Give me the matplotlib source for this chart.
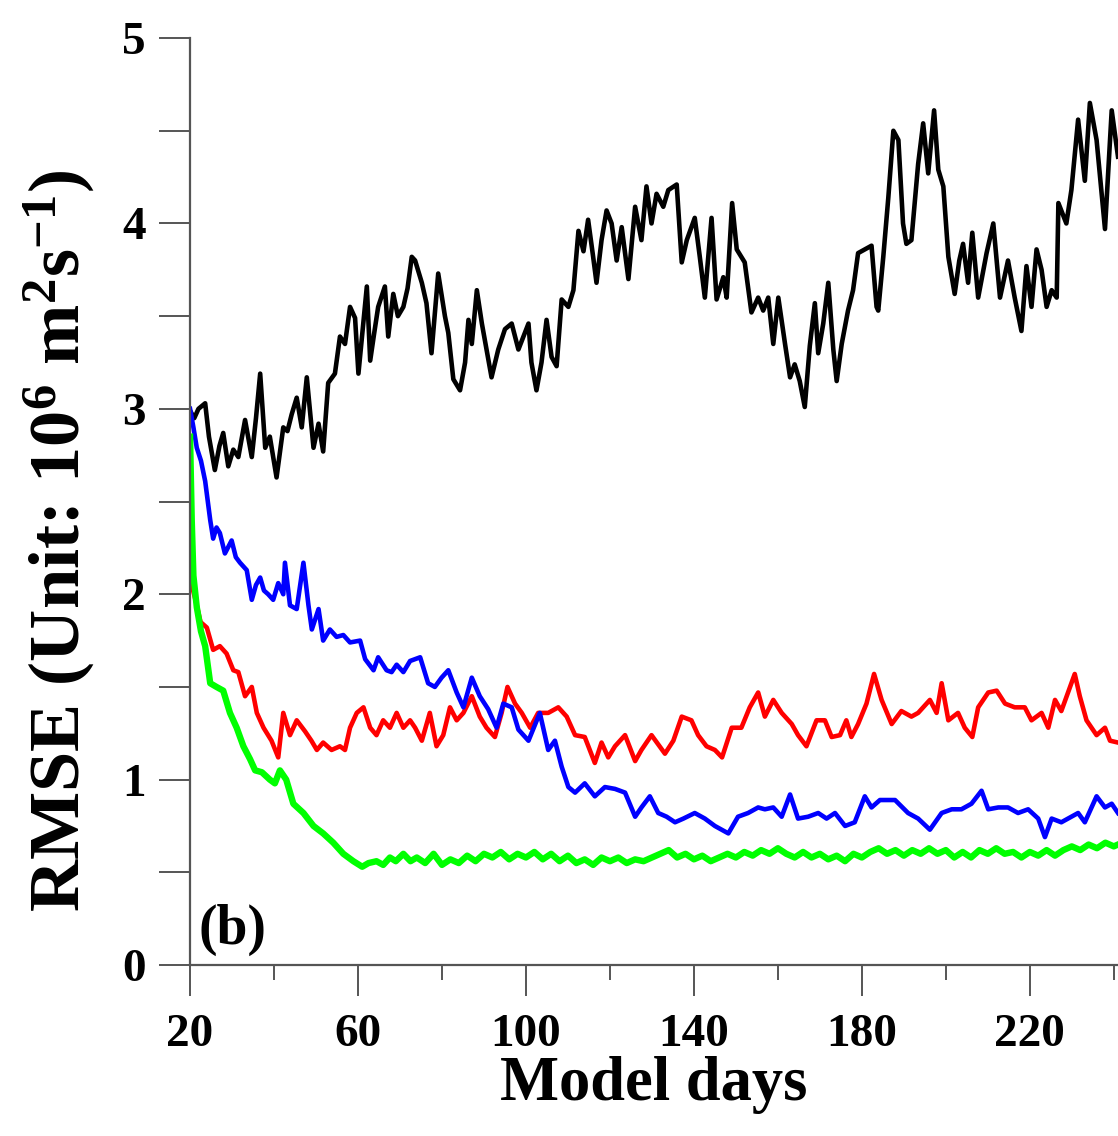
import numpy as np
import matplotlib
matplotlib.use('Agg')
from matplotlib import pyplot as plt
from matplotlib.ticker import FixedLocator, MultipleLocator

plt.rcParams['font.family'] = ['Liberation Serif', 'DejaVu Serif']
plt.rcParams['font.weight'] = 'bold'
plt.rcParams['mathtext.fontset'] = 'custom'
plt.rcParams['mathtext.rm'] = 'Liberation Serif:bold'
plt.rcParams['mathtext.it'] = 'Liberation Serif:bold'
plt.rcParams['mathtext.bf'] = 'Liberation Serif:bold'

# (model day, RMSE)
black = [(20.0, 2.99), (21.0, 2.95), (22.0, 3.00), (23.6, 3.03), (24.5, 2.85), (25.9, 2.67),
         (27.0, 2.80), (27.9, 2.87), (29.1, 2.69), (30.3, 2.78), (31.5, 2.74), (33.1, 2.94),
         (34.7, 2.74), (35.7, 2.95), (36.7, 3.19), (37.9, 2.79), (39.0, 2.85), (40.6, 2.63),
         (42.2, 2.90), (43.2, 2.88), (44.2, 2.97), (45.4, 3.06), (46.6, 2.90), (47.8, 3.17),
         (49.4, 2.79), (50.6, 2.92), (51.7, 2.77), (52.9, 3.14), (54.5, 3.19), (55.7, 3.39),
         (56.9, 3.35), (58.1, 3.55), (59.3, 3.49), (60.1, 3.19), (61.0, 3.40), (62.1, 3.66),
         (62.9, 3.26), (63.8, 3.40), (64.8, 3.55), (66.4, 3.66), (67.2, 3.39), (68.4, 3.62),
         (69.5, 3.50), (70.8, 3.55), (71.8, 3.65), (72.8, 3.82), (73.6, 3.80), (75.2, 3.68),
         (76.3, 3.57), (77.5, 3.30), (79.1, 3.73), (80.7, 3.50), (81.5, 3.41), (82.7, 3.16),
         (84.3, 3.10), (85.5, 3.25), (86.3, 3.48), (87.1, 3.35), (88.3, 3.64), (89.5, 3.46),
         (90.6, 3.32), (91.8, 3.17), (93.4, 3.32), (95.0, 3.43), (96.6, 3.46), (98.2, 3.32),
         (100.6, 3.46), (101.3, 3.25), (102.5, 3.10), (103.7, 3.25), (104.9, 3.48), (106.1, 3.28),
         (107.3, 3.23), (108.5, 3.59), (110.1, 3.55), (111.3, 3.64), (112.5, 3.96), (113.7, 3.85),
         (114.8, 4.02), (116.0, 3.82), (116.8, 3.68), (118.0, 3.91), (119.2, 4.07), (120.4, 4.00),
         (121.6, 3.80), (122.8, 3.98), (124.4, 3.70), (126.0, 4.09), (127.5, 3.91), (128.7, 4.20),
         (129.9, 4.00), (131.1, 4.16), (132.7, 4.09), (133.9, 4.18), (135.9, 4.21), (137.1, 3.79),
         (138.3, 3.91), (140.2, 4.03), (141.4, 3.82), (142.6, 3.60), (144.2, 4.03), (145.4, 3.59),
         (147.0, 3.71), (147.8, 3.60), (149.1, 4.11), (150.2, 3.86), (152.1, 3.79), (153.7, 3.52),
         (155.3, 3.60), (156.5, 3.53), (157.7, 3.60), (158.9, 3.35), (160.1, 3.60), (161.7, 3.35),
         (162.9, 3.17), (164.0, 3.24), (165.2, 3.15), (166.4, 3.01), (167.6, 3.34), (168.8, 3.57),
         (169.6, 3.30), (170.8, 3.46), (172.0, 3.68), (173.2, 3.32), (174.0, 3.15), (175.2, 3.35),
         (176.7, 3.53), (177.9, 3.64), (179.1, 3.84), (180.7, 3.86), (182.3, 3.88), (183.5, 3.55),
         (183.9, 3.53), (185.1, 3.82), (186.3, 4.14), (187.5, 4.50), (188.7, 4.45), (189.8, 4.00),
         (190.6, 3.89), (191.8, 3.91), (193.4, 4.32), (194.6, 4.54), (195.8, 4.27), (197.2, 4.61),
         (198.2, 4.29), (199.4, 4.20), (200.6, 3.82), (202.1, 3.62), (203.2, 3.80), (204.1, 3.89),
         (205.3, 3.68), (206.3, 3.95), (207.7, 3.60), (209.7, 3.84), (211.3, 4.00), (212.9, 3.60),
         (214.8, 3.80), (216.4, 3.60), (218.0, 3.42), (219.2, 3.77), (220.4, 3.55), (221.6, 3.86),
         (222.8, 3.75), (224.0, 3.55), (225.2, 3.64), (226.4, 3.60), (226.8, 4.11), (228.7, 4.00),
         (229.9, 4.18), (231.5, 4.56), (233.1, 4.23), (234.3, 4.65), (235.9, 4.45), (237.9, 3.97),
         (239.5, 4.61), (241.0, 4.36)]

blue = [(20.0, 3.00), (20.8, 2.90), (21.6, 2.79), (22.6, 2.72), (23.6, 2.61), (24.8, 2.40),
        (25.5, 2.30), (26.3, 2.36), (27.1, 2.33), (28.3, 2.22), (29.9, 2.29), (30.9, 2.20),
        (31.9, 2.17), (33.5, 2.13), (34.7, 1.97), (35.7, 2.05), (36.7, 2.09), (37.6, 2.02),
        (38.6, 2.00), (39.8, 1.97), (41.0, 2.06), (42.2, 2.00), (42.6, 2.17), (43.8, 1.94),
        (45.4, 1.92), (47.0, 2.17), (48.2, 1.94), (49.0, 1.81), (50.6, 1.92), (51.7, 1.75),
        (53.3, 1.81), (54.9, 1.77), (56.5, 1.78), (58.1, 1.74), (60.5, 1.75), (61.7, 1.65),
        (63.7, 1.59), (64.8, 1.66), (66.8, 1.59), (68.0, 1.58), (69.2, 1.62), (70.8, 1.58),
        (72.4, 1.64), (74.8, 1.66), (76.7, 1.52), (78.3, 1.50), (79.9, 1.55), (81.5, 1.59),
        (83.5, 1.47), (85.1, 1.39), (87.1, 1.55), (89.0, 1.45), (91.0, 1.38), (93.0, 1.28),
        (94.6, 1.41), (96.6, 1.39), (98.2, 1.27), (100.6, 1.21), (103.3, 1.36), (105.3, 1.16),
        (106.9, 1.21), (108.5, 1.07), (110.1, 0.96), (111.7, 0.93), (114.0, 0.98), (116.4, 0.91),
        (118.8, 0.96), (121.2, 0.95), (123.6, 0.93), (126.0, 0.80), (127.5, 0.85), (129.5, 0.91),
        (131.5, 0.82), (133.5, 0.80), (135.5, 0.77), (137.5, 0.79), (140.2, 0.82), (142.6, 0.79),
        (145.0, 0.75), (148.2, 0.71), (150.5, 0.80), (152.9, 0.82), (155.3, 0.85), (156.9, 0.84),
        (158.9, 0.85), (160.9, 0.80), (162.9, 0.92), (164.8, 0.79), (167.2, 0.80), (169.6, 0.82),
        (171.6, 0.79), (173.6, 0.82), (176.0, 0.75), (178.3, 0.77), (180.7, 0.91), (182.3, 0.85),
        (184.3, 0.89), (185.5, 0.89), (187.9, 0.89), (191.0, 0.82), (193.4, 0.79), (196.2, 0.73),
        (199.0, 0.82), (201.4, 0.84), (203.7, 0.84), (206.1, 0.87), (208.5, 0.94), (210.1, 0.84),
        (212.5, 0.85), (214.8, 0.85), (217.2, 0.82), (219.6, 0.84), (222.0, 0.79), (223.6, 0.69),
        (225.2, 0.79), (227.5, 0.77), (229.9, 0.80), (231.5, 0.82), (233.1, 0.77), (235.9, 0.91),
        (237.9, 0.85), (239.5, 0.87), (241.0, 0.82)]

red = [(20.0, 2.15), (20.4, 2.05), (21.5, 1.95), (22.5, 1.85), (24.0, 1.82), (25.5, 1.70),
       (27.1, 1.72), (28.7, 1.68), (30.3, 1.59), (31.5, 1.58), (33.1, 1.45), (34.7, 1.50),
       (35.9, 1.36), (37.5, 1.28), (39.4, 1.21), (41.0, 1.12), (42.2, 1.36), (43.8, 1.24),
       (45.4, 1.32), (47.4, 1.26), (48.9, 1.21), (50.2, 1.16), (51.7, 1.20), (53.7, 1.16),
       (55.7, 1.18), (56.9, 1.16), (58.1, 1.28), (59.7, 1.36), (61.3, 1.39), (62.9, 1.28),
       (64.4, 1.24), (66.0, 1.32), (67.6, 1.28), (69.2, 1.36), (70.8, 1.28), (72.4, 1.32),
       (73.6, 1.28), (75.2, 1.21), (77.1, 1.36), (78.7, 1.18), (80.3, 1.24), (81.9, 1.39),
       (83.5, 1.32), (85.1, 1.36), (87.1, 1.45), (89.0, 1.34), (90.6, 1.28), (92.6, 1.23),
       (94.2, 1.36), (95.6, 1.50), (97.4, 1.41), (99.0, 1.36), (101.0, 1.28), (102.9, 1.36),
       (105.3, 1.36), (107.7, 1.39), (109.7, 1.34), (111.7, 1.24), (114.0, 1.23), (116.4, 1.09),
       (118.0, 1.20), (119.6, 1.12), (121.2, 1.18), (123.6, 1.24), (126.0, 1.10), (127.5, 1.16),
       (129.9, 1.24), (133.1, 1.14), (135.1, 1.21), (137.1, 1.34), (139.4, 1.32), (141.0, 1.24),
       (143.0, 1.18), (145.0, 1.16), (146.7, 1.12), (149.0, 1.28), (151.3, 1.28), (153.3, 1.39),
       (155.3, 1.47), (156.9, 1.34), (158.9, 1.43), (160.9, 1.36), (163.3, 1.30), (164.8, 1.24),
       (166.8, 1.18), (169.2, 1.32), (171.2, 1.32), (172.8, 1.23), (174.8, 1.24), (176.3, 1.32),
       (177.5, 1.23), (179.1, 1.30), (181.1, 1.41), (182.9, 1.57), (184.7, 1.43), (187.1, 1.30),
       (189.4, 1.37), (191.8, 1.34), (193.4, 1.36), (196.2, 1.43), (197.8, 1.36), (199.0, 1.52),
       (200.6, 1.32), (202.9, 1.36), (204.5, 1.28), (206.3, 1.23), (207.7, 1.39), (210.1, 1.47),
       (212.1, 1.48), (214.1, 1.41), (216.4, 1.39), (218.8, 1.39), (220.4, 1.32), (222.8, 1.36),
       (224.4, 1.28), (226.0, 1.43), (227.5, 1.37), (229.1, 1.47), (230.7, 1.57), (231.9, 1.45),
       (233.5, 1.32), (235.9, 1.24), (237.9, 1.28), (239.1, 1.21), (241.0, 1.20)]

green = [(20.0, 2.85), (20.4, 2.40), (20.8, 2.10), (21.6, 1.93), (22.6, 1.80), (23.6, 1.72),
         (24.8, 1.52), (26.3, 1.50), (27.9, 1.48), (29.5, 1.36), (31.1, 1.28), (32.7, 1.18),
         (34.3, 1.11), (35.5, 1.05), (37.1, 1.04), (39.0, 1.00), (40.2, 0.98), (41.4, 1.05),
         (42.9, 1.00), (44.6, 0.87), (47.0, 0.82), (49.4, 0.75), (51.7, 0.71), (54.1, 0.66),
         (56.5, 0.60), (58.9, 0.56), (61.0, 0.53), (62.5, 0.55), (64.4, 0.56), (66.0, 0.54),
         (67.6, 0.58), (69.0, 0.56), (70.8, 0.60), (72.5, 0.56), (74.0, 0.58), (76, 0.55),
         (78, 0.60), (80, 0.54), (82, 0.57), (84, 0.55), (86, 0.59), (88, 0.56), (90, 0.60),
         (92, 0.58), (94, 0.61), (96, 0.57), (98, 0.60), (100, 0.58), (102, 0.61), (104, 0.57),
         (106, 0.60), (108, 0.56), (110, 0.59), (112, 0.55), (114, 0.57), (116, 0.54), (118, 0.58),
         (120, 0.56), (122, 0.58), (124, 0.55), (126, 0.57), (128, 0.56), (130, 0.58), (132, 0.60),
         (134, 0.62), (136, 0.58), (138, 0.60), (140, 0.57), (142, 0.59), (144, 0.56), (146, 0.58),
         (148, 0.60), (150, 0.58), (152, 0.61), (154, 0.59), (156, 0.62), (158, 0.60), (160, 0.63),
         (162, 0.60), (164, 0.58), (166, 0.61), (168, 0.58), (170, 0.60), (172, 0.57), (174, 0.59),
         (176, 0.56), (178, 0.60), (180, 0.58), (182, 0.61), (184, 0.63), (186, 0.60), (188, 0.62),
         (190, 0.59), (192, 0.62), (194, 0.60), (196, 0.63), (198, 0.60), (200, 0.62), (202, 0.58),
         (204, 0.61), (206, 0.58), (208, 0.62), (210, 0.60), (212, 0.63), (214, 0.60), (216, 0.61),
         (218, 0.58), (220, 0.61), (222, 0.59), (224, 0.62), (226, 0.59), (228, 0.62), (230, 0.64),
         (232, 0.62), (234, 0.65), (236, 0.63), (238, 0.66), (240, 0.64), (241, 0.65)]

day_ticks = [20, 60, 100, 140, 180, 220]
day_minor = [40, 80, 120, 160, 200, 240]

fig = plt.figure(figsize=(11.18, 11.36), dpi=100)
ax = fig.add_axes([0.170, 0.1505, 0.830, 0.816])

for series, colour, lw in [(black, 'black', 3.3), (red, '#ff0000', 3.3),
                           (blue, '#0000ff', 3.3), (green, '#00ff00', 4.6)]:
    d, v = zip(*series)
    ax.plot(d, v, color=colour, lw=lw)

ax.set_xlim(20, 241)
ax.set_ylim(0, 5)
ax.xaxis.set_major_locator(FixedLocator(day_ticks))
ax.xaxis.set_minor_locator(FixedLocator(day_minor))
ax.yaxis.set_major_locator(MultipleLocator(1))
ax.yaxis.set_minor_locator(MultipleLocator(0.5))

for s in ['top', 'right']:
    ax.spines[s].set_visible(False)
for s in ['left', 'bottom']:
    ax.spines[s].set_color('#555555')
    ax.spines[s].set_linewidth(1.6)

ax.tick_params(axis='both', which='both', direction='out', color='#555555', width=1.4)
ax.tick_params(axis='y', which='both', length=22, pad=10, labelsize=34)
ax.tick_params(axis='x', which='major', length=22, pad=13, labelsize=34)
ax.tick_params(axis='x', which='minor', length=11)

ax.set_xlabel('Model days', fontsize=45, fontweight='bold', labelpad=0)
ax.set_ylabel(r'RMSE (Unit: 10$^6$ m$^2$s$^{-1}$)', fontsize=52, fontweight='bold')
ax.yaxis.set_label_coords(-0.100, 0.458)

ax.text(22, 0.05, '(b)', fontsize=40, fontweight='bold', ha='left', va='bottom')

fig.savefig('out.png', dpi=100)
